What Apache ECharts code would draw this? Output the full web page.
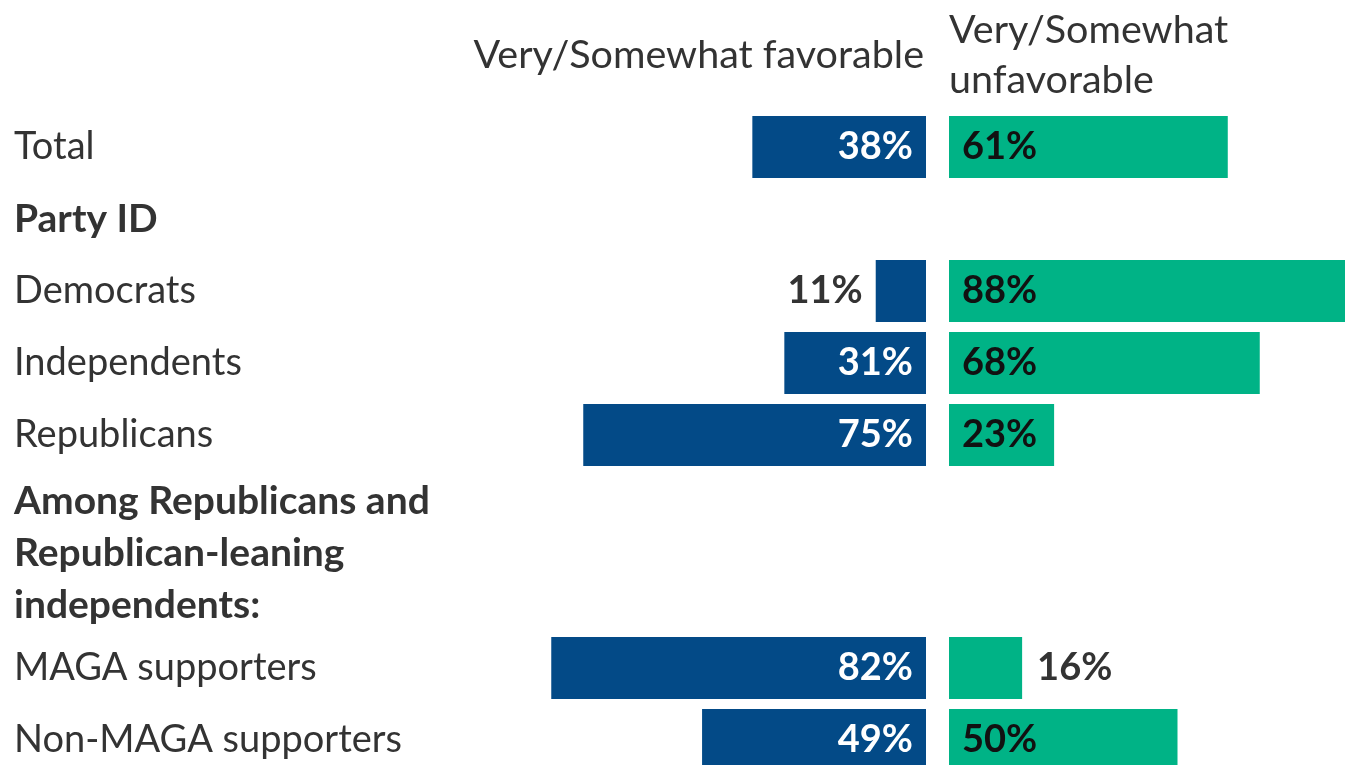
<!DOCTYPE html>
<html><head><meta charset="utf-8">
<script src="https://cdn.jsdelivr.net/npm/echarts@6/dist/echarts.min.js"></script>
<style>html,body{margin:0;padding:0;background:#fff}#c{width:1345px;height:765px}</style>
</head><body><div id="c"></div>
<script>
const topCategories = ['Total', 'Party ID', 'Democrats', 'Independents', 'Republicans'];
const topFavorable = [38, null, 11, 31, 75];
const topUnfavorable = [61, null, 88, 68, 23];
const bottomCategories = ['MAGA supporters', 'Non-MAGA supporters'];
const bottomFavorable = [82, 49];
const bottomUnfavorable = [16, 50];
const headerRows = ['Party ID'];
const groupHeader = ['Among Republicans and', 'Republican-leaning', 'independents:'];
const favTitle = 'Very/Somewhat favorable';
const unfavTitle = ['Very/Somewhat', 'unfavorable'];

const FONT = 'Lato';
const FS = 38;
const FSB = 39;
const FST = 39.5;
const BLUE = '#034a87';
const GREEN = '#00b386';
const TXT = '#333333';
const PXPCT = 4.57;
const RIGHT_W = 1345 - 949;

function favItems(vals) {
  return vals.map(v => v == null ? null : {
    value: v,
    label: v < 20
      ? { position: 'left', distance: 13, color: TXT }
      : { position: 'insideRight', distance: 13, color: '#ffffff' }
  });
}
function unfavItems(vals) {
  return vals.map(v => v == null ? null : {
    value: v,
    label: v < 20
      ? { position: 'right', distance: 15, color: TXT }
      : { position: 'insideLeft', distance: 13, color: '#111111' }
  });
}
const labelBase = { show: true, formatter: '{c}%', fontFamily: FONT, fontSize: FS, fontWeight: 'bold' };

const grids = [
  { left: 469, width: 457, top: 111, height: 360 },
  { left: 949, width: RIGHT_W, top: 111, height: 360 },
  { left: 469, width: 457, top: 668, height: 72 },
  { left: 949, width: RIGHT_W, top: 668, height: 72 }
];
const xAxes = grids.map((g, i) => ({
  gridIndex: i, type: 'value', min: 0,
  max: i % 2 === 0 ? 100 : RIGHT_W / PXPCT,
  inverse: i % 2 === 0, show: false
}));
function yAx(i, cats, showLabels, gap) {
  return {
    gridIndex: i, type: 'category', data: cats, inverse: true, boundaryGap: gap,
    axisLine: { show: false }, axisTick: { show: false }, splitLine: { show: false },
    axisLabel: showLabels ? {
      show: true, align: 'left', margin: 455, fontFamily: FONT, fontSize: FS, color: TXT,
      formatter: v => headerRows.includes(v) ? '{b|' + v + '}' : v,
      rich: { b: { fontFamily: FONT, fontSize: FSB, fontWeight: 'bold', color: TXT } }
    } : { show: false }
  };
}
const yAxes = [
  yAx(0, topCategories, true, true), yAx(1, topCategories, false, true),
  yAx(2, bottomCategories, true, false), yAx(3, bottomCategories, false, false)
];
function bar(i, data, color) {
  return {
    type: 'bar', xAxisIndex: i, yAxisIndex: i, data: data, barWidth: 62,
    itemStyle: { color: color }, label: labelBase, clip: false, silent: true
  };
}
const option = {
  animation: false,
  grid: grids,
  xAxis: xAxes,
  yAxis: yAxes,
  series: [
    bar(0, favItems(topFavorable), BLUE),
    bar(1, unfavItems(topUnfavorable), GREEN),
    bar(2, favItems(bottomFavorable), BLUE),
    bar(3, unfavItems(bottomUnfavorable), GREEN)
  ],
  graphic: [
    { type: 'text', x: 924, y: 55, style: { text: favTitle, font: FST + 'px ' + FONT, fill: TXT, textAlign: 'right', textVerticalAlign: 'middle' } },
    { type: 'text', x: 949, y: 55, style: { text: unfavTitle.join('\n'), font: FST + 'px ' + FONT, lineHeight: 50, fill: TXT, textAlign: 'left', textVerticalAlign: 'middle' } },
    { type: 'text', x: 14, y: 553, style: { text: groupHeader.join('\n'), font: 'bold ' + FSB + 'px ' + FONT, lineHeight: 52, fill: TXT, textAlign: 'left', textVerticalAlign: 'middle' } }
  ]
};
const chart = echarts.init(document.getElementById('c'), null, { renderer: 'canvas' });
chart.setOption(option);
</script></body></html>
